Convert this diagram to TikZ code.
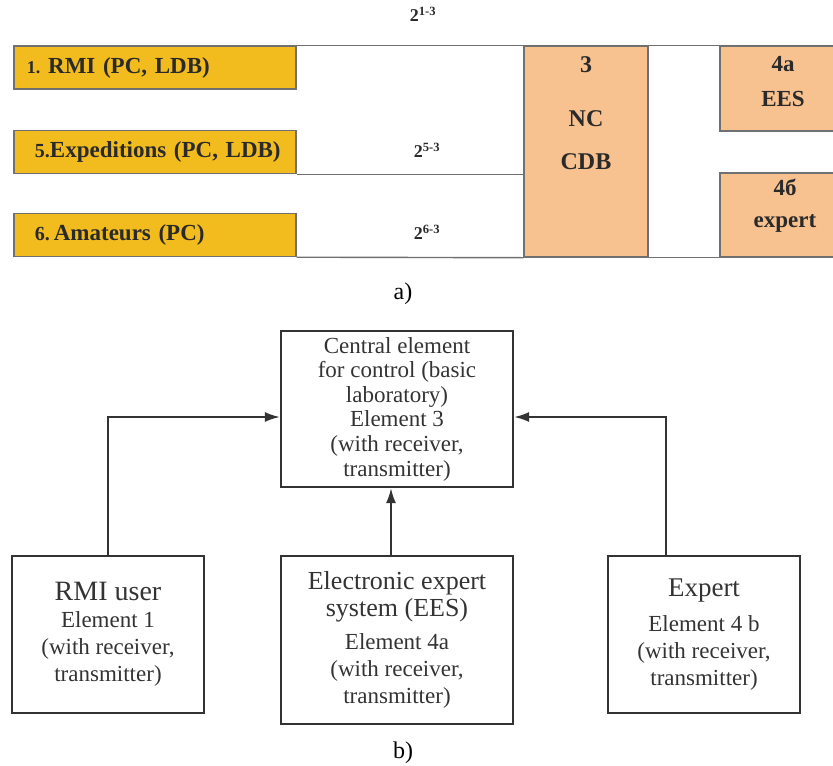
\documentclass[tikz,border=0pt]{standalone}
\usepackage{fontspec}
\setmainfont{Liberation Serif}
\usetikzlibrary{arrows.meta}
\definecolor{gold}{HTML}{F2BC1F}
\definecolor{peach}{HTML}{F8C290}
\definecolor{edgegray}{HTML}{707070}
\definecolor{ink}{HTML}{2A2A2A}
\definecolor{bink}{HTML}{333333}
\begin{document}
\begin{tikzpicture}[x=1pt,y=-1pt,
  ybox/.style={draw=edgegray, line width=1.4pt, fill=gold, minimum width=282pt, minimum height=43pt, text width=256pt, inner xsep=13pt, inner ysep=0pt, align=left, font=\bfseries\fontsize{23}{25}\selectfont, text=ink},
  pbox/.style={draw=edgegray, line width=1.4pt, fill=peach, inner sep=0pt},
  ptext/.style={align=center, text=ink, inner sep=0pt},
  link/.style={draw=edgegray, line width=1.4pt},
  bbox/.style={draw=bink, line width=2.2pt, inner sep=0pt, align=center, text=bink, font=\fontsize{23}{27}\selectfont},
  arr/.style={draw=bink, line width=2pt, -{Latex[length=15pt,width=10pt]}},
  lab/.style={font=\fontsize{24}{26}\selectfont, text=black},
  expo/.style={font=\bfseries\fontsize{18}{18}\selectfont, text=ink}
]
\useasboundingbox (0,0) rectangle (833,766);
% ---------- part a ----------
\begin{scope}
\clip (0,0) rectangle (833,766);
\node[pbox, minimum width=124pt, minimum height=211pt] (nc) at (586,151.5) {};
\node[pbox, minimum width=130pt, minimum height=85pt] (e4a) at (785,88.5) {};
\node[pbox, minimum width=130pt, minimum height=84pt] (e4b) at (785,215) {};
\end{scope}
\node[ybox] (y1) at (155,67.5) {{\fontsize{18}{18}\selectfont 1.}~RMI (PC, LDB)};
\node[ybox] (y5) at (155,152) {\hspace{8pt}{\fontsize{20}{20}\selectfont 5.}Expeditions (PC, LDB)};
\node[ybox] (y6) at (155,235) {\hspace{8pt}{\fontsize{20}{20}\selectfont 6.}\,Amateurs (PC)};
\draw[link] (y1.north east) -- (nc.north west);
\draw[link] (nc.north east) -- (e4a.north west);
\draw[link] (y5.south east) -- (nc.west |- y5.south);
\draw[link] (y6.south east) -- (nc.south west);
\draw[link] (nc.south east) -- (e4b.south west);
\node[ptext, font=\bfseries\fontsize{24}{43}\selectfont] (nctext) at (586,113) {3\\[11pt]NC\\CDB};
\node[ptext, font=\bfseries\fontsize{23}{35}\selectfont] (e4atext) at (783,82) {4a\\EES};
\node[ptext, font=\bfseries\fontsize{23}{32}\selectfont] (e4btext) at (785,206) {4б\\expert};
\node[expo] (t13) at (423,14) {2\textsuperscript{1-3}};
\node[expo] (t53) at (427,150) {2\textsuperscript{5-3}};
\node[expo] (t63) at (427,232) {2\textsuperscript{6-3}};
\node[lab] (la) at (403,294) {a)};
% ---------- part b ----------
\node[bbox, minimum width=232pt, minimum height=156pt, font=\fontsize{23}{24.6}\selectfont] (ce) at (397,409)
  {Central element\\for control (basic\\laboratory)\\Element 3\\(with receiver,\\transmitter)};
\node[bbox, minimum width=192pt, minimum height=157pt] (ru) at (108,634.5)
  {{\fontsize{28}{30}\selectfont RMI user}\\Element 1\\(with receiver,\\transmitter)};
\node[bbox, minimum width=232pt, minimum height=168pt] (ees) at (397,640)
  {{\fontsize{26}{28}\selectfont Electronic expert}\\{\fontsize{26}{28}\selectfont system (EES)}\\[6pt]Element 4a\\(with receiver,\\transmitter)};
\node[bbox, minimum width=192pt, minimum height=157pt] (ex) at (704,634.5)
  {{\fontsize{27}{29}\selectfont Expert}\\[8pt]Element 4 b\\(with receiver,\\transmitter)};
\coordinate (ja) at (108,417);
\coordinate (jb) at (666,417);
\coordinate (jm) at (391,0);
\draw[arr] (ru.north) -- (ja) -- (ce.west |- ja);
\draw[arr] (ex.north -| jb) -- (jb) -- (ce.east |- jb);
\draw[arr] (ees.north -| jm) -- (ce.south -| jm);
\node[lab] (lb) at (403,753) {b)};
\end{tikzpicture}
\end{document}
